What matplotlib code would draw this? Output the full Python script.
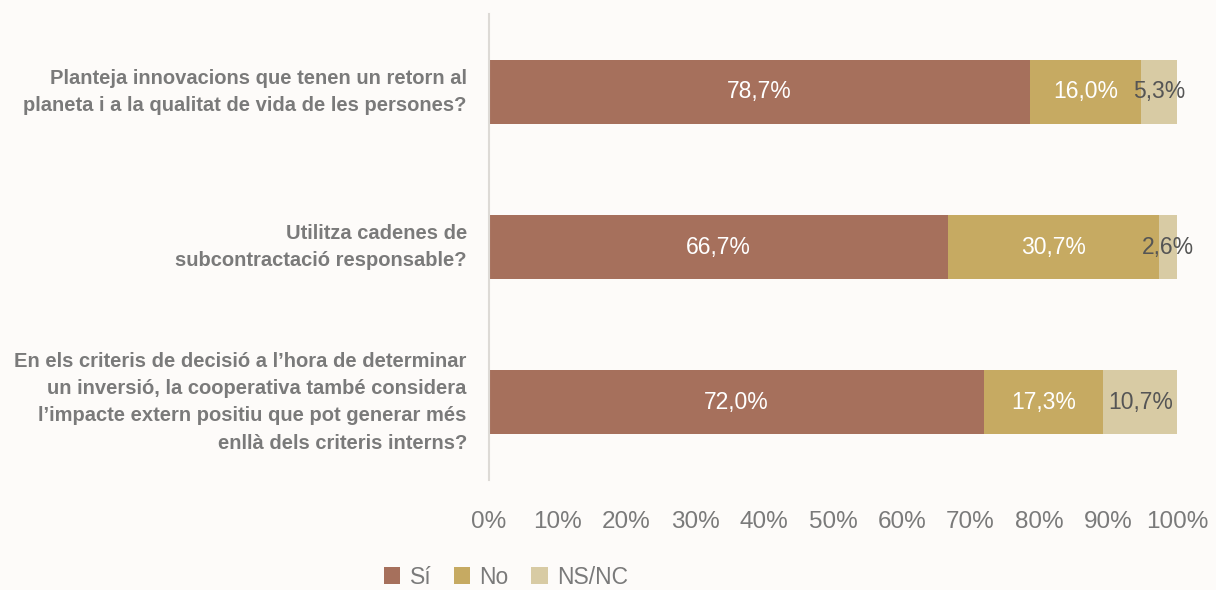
import matplotlib
matplotlib.use("Agg")
import matplotlib.pyplot as plt
from matplotlib.patches import Patch

categories = [
    "Planteja innovacions que tenen un retorn al\nplaneta i a la qualitat de vida de les persones?",
    "Utilitza cadenes de\nsubcontractació responsable?",
    "En els criteris de decisió a l’hora de determinar\nun inversió, la cooperativa també considera\nl’impacte extern positiu que pot generar més\nenllà dels criteris interns?",
]
series_names = ["Sí", "No", "NS/NC"]
si = [78.7, 66.7, 72.0]
no = [16.0, 30.7, 17.3]
nsnc = [5.3, 2.6, 10.7]
xticks = [0, 10, 20, 30, 40, 50, 60, 70, 80, 90, 100]

colors = ["#A6705C", "#C6AA62", "#D8CBA4"]
label_colors = ["white", "white", "#555555"]
bg = "#FDFBF9"
grey = "#7A7A7A"

plt.rcParams["font.family"] = ["Liberation Sans", "DejaVu Sans"]

fig = plt.figure(figsize=(12.16, 5.90), dpi=100, facecolor=bg)
ax = fig.add_axes([489/1216, 1-480/590, (1177-489)/1216, (480-14)/590])
ax.set_facecolor(bg)

ypos = list(range(len(categories)))
left = [0.0]*len(categories)
for name, vals, c, lc in zip(series_names, [si, no, nsnc], colors, label_colors):
    ax.barh(ypos, vals, left=left, height=0.41, color=c, label=name)
    for y, v, l in zip(ypos, vals, left):
        ax.text(l + v/2, y, f"{v:.1f}%".replace(".", ","), ha="center", va="center",
                color=lc, fontsize=16.5)
    left = [a+b for a, b in zip(left, vals)]

ax.set_ylim(2.5, -0.5)
ax.set_xlim(0, 100)
ax.set_yticks(ypos)
ax.set_yticklabels(categories, fontsize=14.5, fontweight="bold", color=grey,
                   ha="right", va="center", linespacing=1.55)
ax.set_xticks(xticks)
ax.set_xticklabels([f"{t}%" for t in xticks], fontsize=17.5, color=grey)
ax.tick_params(axis="y", length=0, pad=16)
ax.tick_params(axis="x", length=0, pad=22)
for s in ["top", "right", "bottom"]:
    ax.spines[s].set_visible(False)
ax.spines["left"].set_color("#DDDAD6")
ax.spines["left"].set_linewidth(1.5)

handles = [Patch(facecolor=c, label=n) for c, n in zip(colors, series_names)]
fig.legend(handles=handles, loc="center", bbox_to_anchor=(506/1216, 1-577/590),
           ncol=3, frameon=False, fontsize=16.5, handlelength=0.7, handleheight=0.7,
           handletextpad=0.4, columnspacing=1.0, labelcolor=grey)

fig.savefig("out.png", dpi=100, facecolor=bg)
